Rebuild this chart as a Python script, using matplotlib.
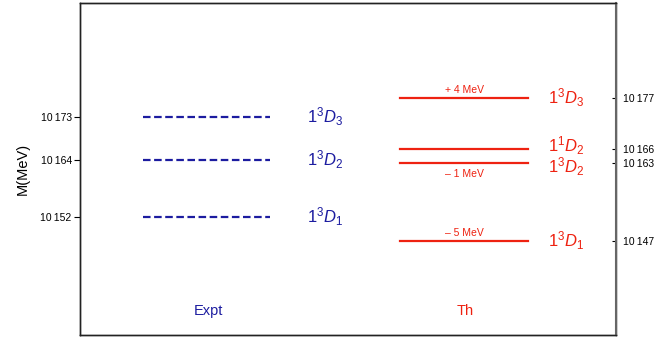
import matplotlib.pyplot as plt

# Data (MeV)
expt_masses = [10173, 10164, 10152]
expt_labels = [r"$1^3D_3$", r"$1^3D_2$", r"$1^3D_1$"]
th_masses = [10177, 10166.3, 10163.4, 10147]
th_labels = [r"$1^3D_3$", r"$1^1D_2$", r"$1^3D_2$", r"$1^3D_1$"]
th_shifts = ["+ 4 MeV", None, "\u2013 1 MeV", "\u2013 5 MeV"]
left_ticks = [10173, 10164, 10152]
right_ticks = [10177, 10166.3, 10163.4, 10147]
right_tick_labels = ["10\u2009177", "10\u2009166", "10\u2009163", "10\u2009147"]

blue = "#1c1ca0"
red = "#ee2211"

plt.rcParams["font.family"] = ["Liberation Sans", "DejaVu Sans"]
plt.rcParams["mathtext.fontset"] = "custom"
plt.rcParams["mathtext.rm"] = "Liberation Sans"
plt.rcParams["mathtext.it"] = "Liberation Sans:italic"

fig = plt.figure(figsize=(6.58, 3.37), dpi=100)
ax = fig.add_axes([80 / 658, 2 / 337, 536 / 658, 332 / 337])
ax.set_xlim(0, 1)
ax.set_ylim(10127.3, 10196.9)

# experiment levels
for m, lab in zip(expt_masses, expt_labels):
    ax.plot([0.1175, 0.3545], [m, m], color=blue, lw=1.6, ls=(0, (3.4, 1.6)))
    ax.text(0.4235, m, lab, color=blue, fontsize=12, ha="left", va="center")

# theory levels
label_offsets = [0, 2.5, -3, 0]
shift_offsets = [6, 0, -8, 6]
for m, lab, sh, lo, so in zip(th_masses, th_labels, th_shifts, label_offsets, shift_offsets):
    ax.plot([0.597, 0.836], [m, m], color=red, lw=1.6)
    ax.annotate(lab, (0.873, m), xytext=(0, lo), textcoords="offset points",
                color=red, fontsize=12, ha="left", va="center")
    if sh:
        ax.annotate(sh, (0.7165, m), xytext=(0, so), textcoords="offset points",
                    color=red, fontsize=7.5, ha="center", va="center")

ax.text(0.239, 0.073, "Expt", color=blue, fontsize=10.5, ha="center", va="center",
        transform=ax.transAxes)
ax.text(0.718, 0.073, "Th", color=red, fontsize=10.5, ha="center", va="center",
        transform=ax.transAxes)

# left axis
ax.set_xticks([])
ax.set_yticks(left_ticks)
ax.set_yticklabels(["10\u2009" + str(t)[2:] for t in left_ticks], fontsize=7.5)
ax.tick_params(axis="y", direction="out", length=4, width=0.8, pad=2)
ax.set_ylabel("M(MeV)", fontsize=10.5, labelpad=8)

# right axis
ax2 = ax.twinx()
ax2.set_ylim(ax.get_ylim())
ax2.set_yticks(right_ticks)
ax2.set_yticklabels(right_tick_labels, fontsize=7.5)
ax2.tick_params(axis="y", direction="in", length=3, width=0.8, pad=5)

for a in (ax, ax2):
    for s in a.spines.values():
        s.set_linewidth(1.0)
        s.set_color("#222222")
ax2.spines["right"].set_color("#666666")
ax2.spines["right"].set_linewidth(1.5)

fig.savefig("out.png", dpi=100)
